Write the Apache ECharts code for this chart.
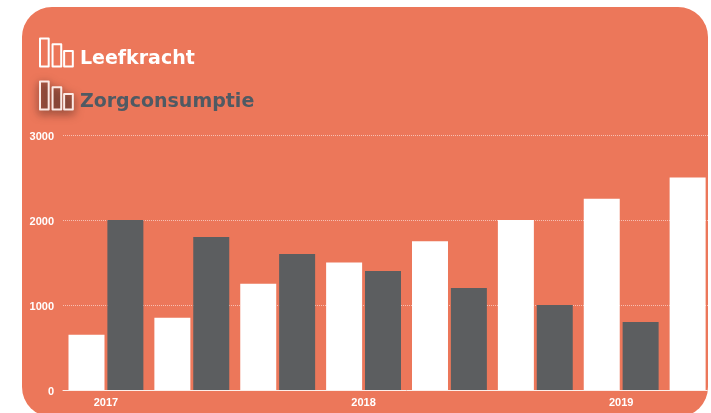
<!DOCTYPE html>
<html>
<head>
<meta charset="utf-8">
<style>
  html, body { margin: 0; padding: 0; background: #fff; }
  #panel {
    position: absolute; left: 22px; top: 7px; width: 686px; height: 410px;
    background: #ec775a; border-radius: 30px; overflow: hidden;
  }
  /* wider than the panel: the last group runs past the panel edge and gets cut off */
  #chart { width: 740px; height: 410px; }
</style>
<script src="https://cdn.jsdelivr.net/npm/echarts@6/dist/echarts.min.js"></script>
</head>
<body>
<div id="panel"><div id="chart"></div></div>
<script>
const categories = ['2017', '', '', '2018', '', '', '2019', ''];
const leefkracht = [650, 850, 1250, 1500, 1750, 2000, 2250, 2500];
const zorgconsumptie = [2000, 1800, 1600, 1400, 1200, 1000, 800, null];
const yMax = 3000;
const yStep = 1000;

const barsIcon = 'path://M0 0h9v29h-9z M13 6h9v23h-9z M25 13h9v16h-9z';
const labelFont = { color: '#fff', fontSize: 11, fontWeight: 'bold', fontFamily: 'Liberation Sans' };
// top padding pushes the legend text below the middle of the icon
const legendFont = { fontFamily: 'DejaVu Sans', fontWeight: 'bold', fontSize: 19, lineHeight: 16, padding: [14, 0, 0, 2] };

const chart = echarts.init(document.getElementById('chart'));
chart.setOption({
  animation: false,
  backgroundColor: 'transparent',
  legend: {
    orient: 'vertical',
    left: 17,
    top: 29,
    itemWidth: 33,
    itemHeight: 28,
    itemGap: 10,
    selectedMode: false,
    padding: 0,
    formatter: name => name === 'Leefkracht' ? `{up|${name}}` : `{down|${name}}`,
    textStyle: {
      rich: {
        up: { ...legendFont, color: '#fff' },
        down: { ...legendFont, color: '#4f5a63' }
      }
    },
    data: [
      {
        name: 'Leefkracht',
        icon: barsIcon,
        itemStyle: { color: 'transparent', borderColor: '#fff', borderWidth: 2, borderJoin: 'round' }
      },
      {
        name: 'Zorgconsumptie',
        icon: barsIcon,
        itemStyle: {
          color: 'rgba(110,60,50,0.4)', borderColor: '#fbeae5', borderWidth: 2, borderJoin: 'round',
          shadowBlur: 10, shadowColor: 'rgba(50,30,25,0.7)', shadowOffsetY: 3
        }
      }
    ]
  },
  grid: { left: 41, top: 128, width: 687, height: 255 },
  xAxis: {
    type: 'category',
    data: categories,
    axisTick: { show: false },
    axisLine: { lineStyle: { color: '#fdeee9', width: 1 } },
    axisLabel: { ...labelFont, interval: 0, margin: 7 }
  },
  yAxis: {
    type: 'value',
    min: 0,
    max: yMax,
    interval: yStep,
    axisLine: { show: false },
    axisTick: { show: false },
    axisLabel: { ...labelFont, margin: 9, verticalAlign: 'top', lineHeight: 3, formatter: v => String(v) },
    splitLine: { lineStyle: { color: 'rgba(255,255,255,0.55)', type: [1, 1], width: 1 } }
  },
  series: [
    { name: 'Leefkracht', type: 'bar', data: leefkracht, barWidth: 36, barGap: '8%', itemStyle: { color: '#fff' } },
    { name: 'Zorgconsumptie', type: 'bar', data: zorgconsumptie, barWidth: 36, barGap: '8%', itemStyle: { color: '#5c5e60' } }
  ]
});
</script>
</body>
</html>
